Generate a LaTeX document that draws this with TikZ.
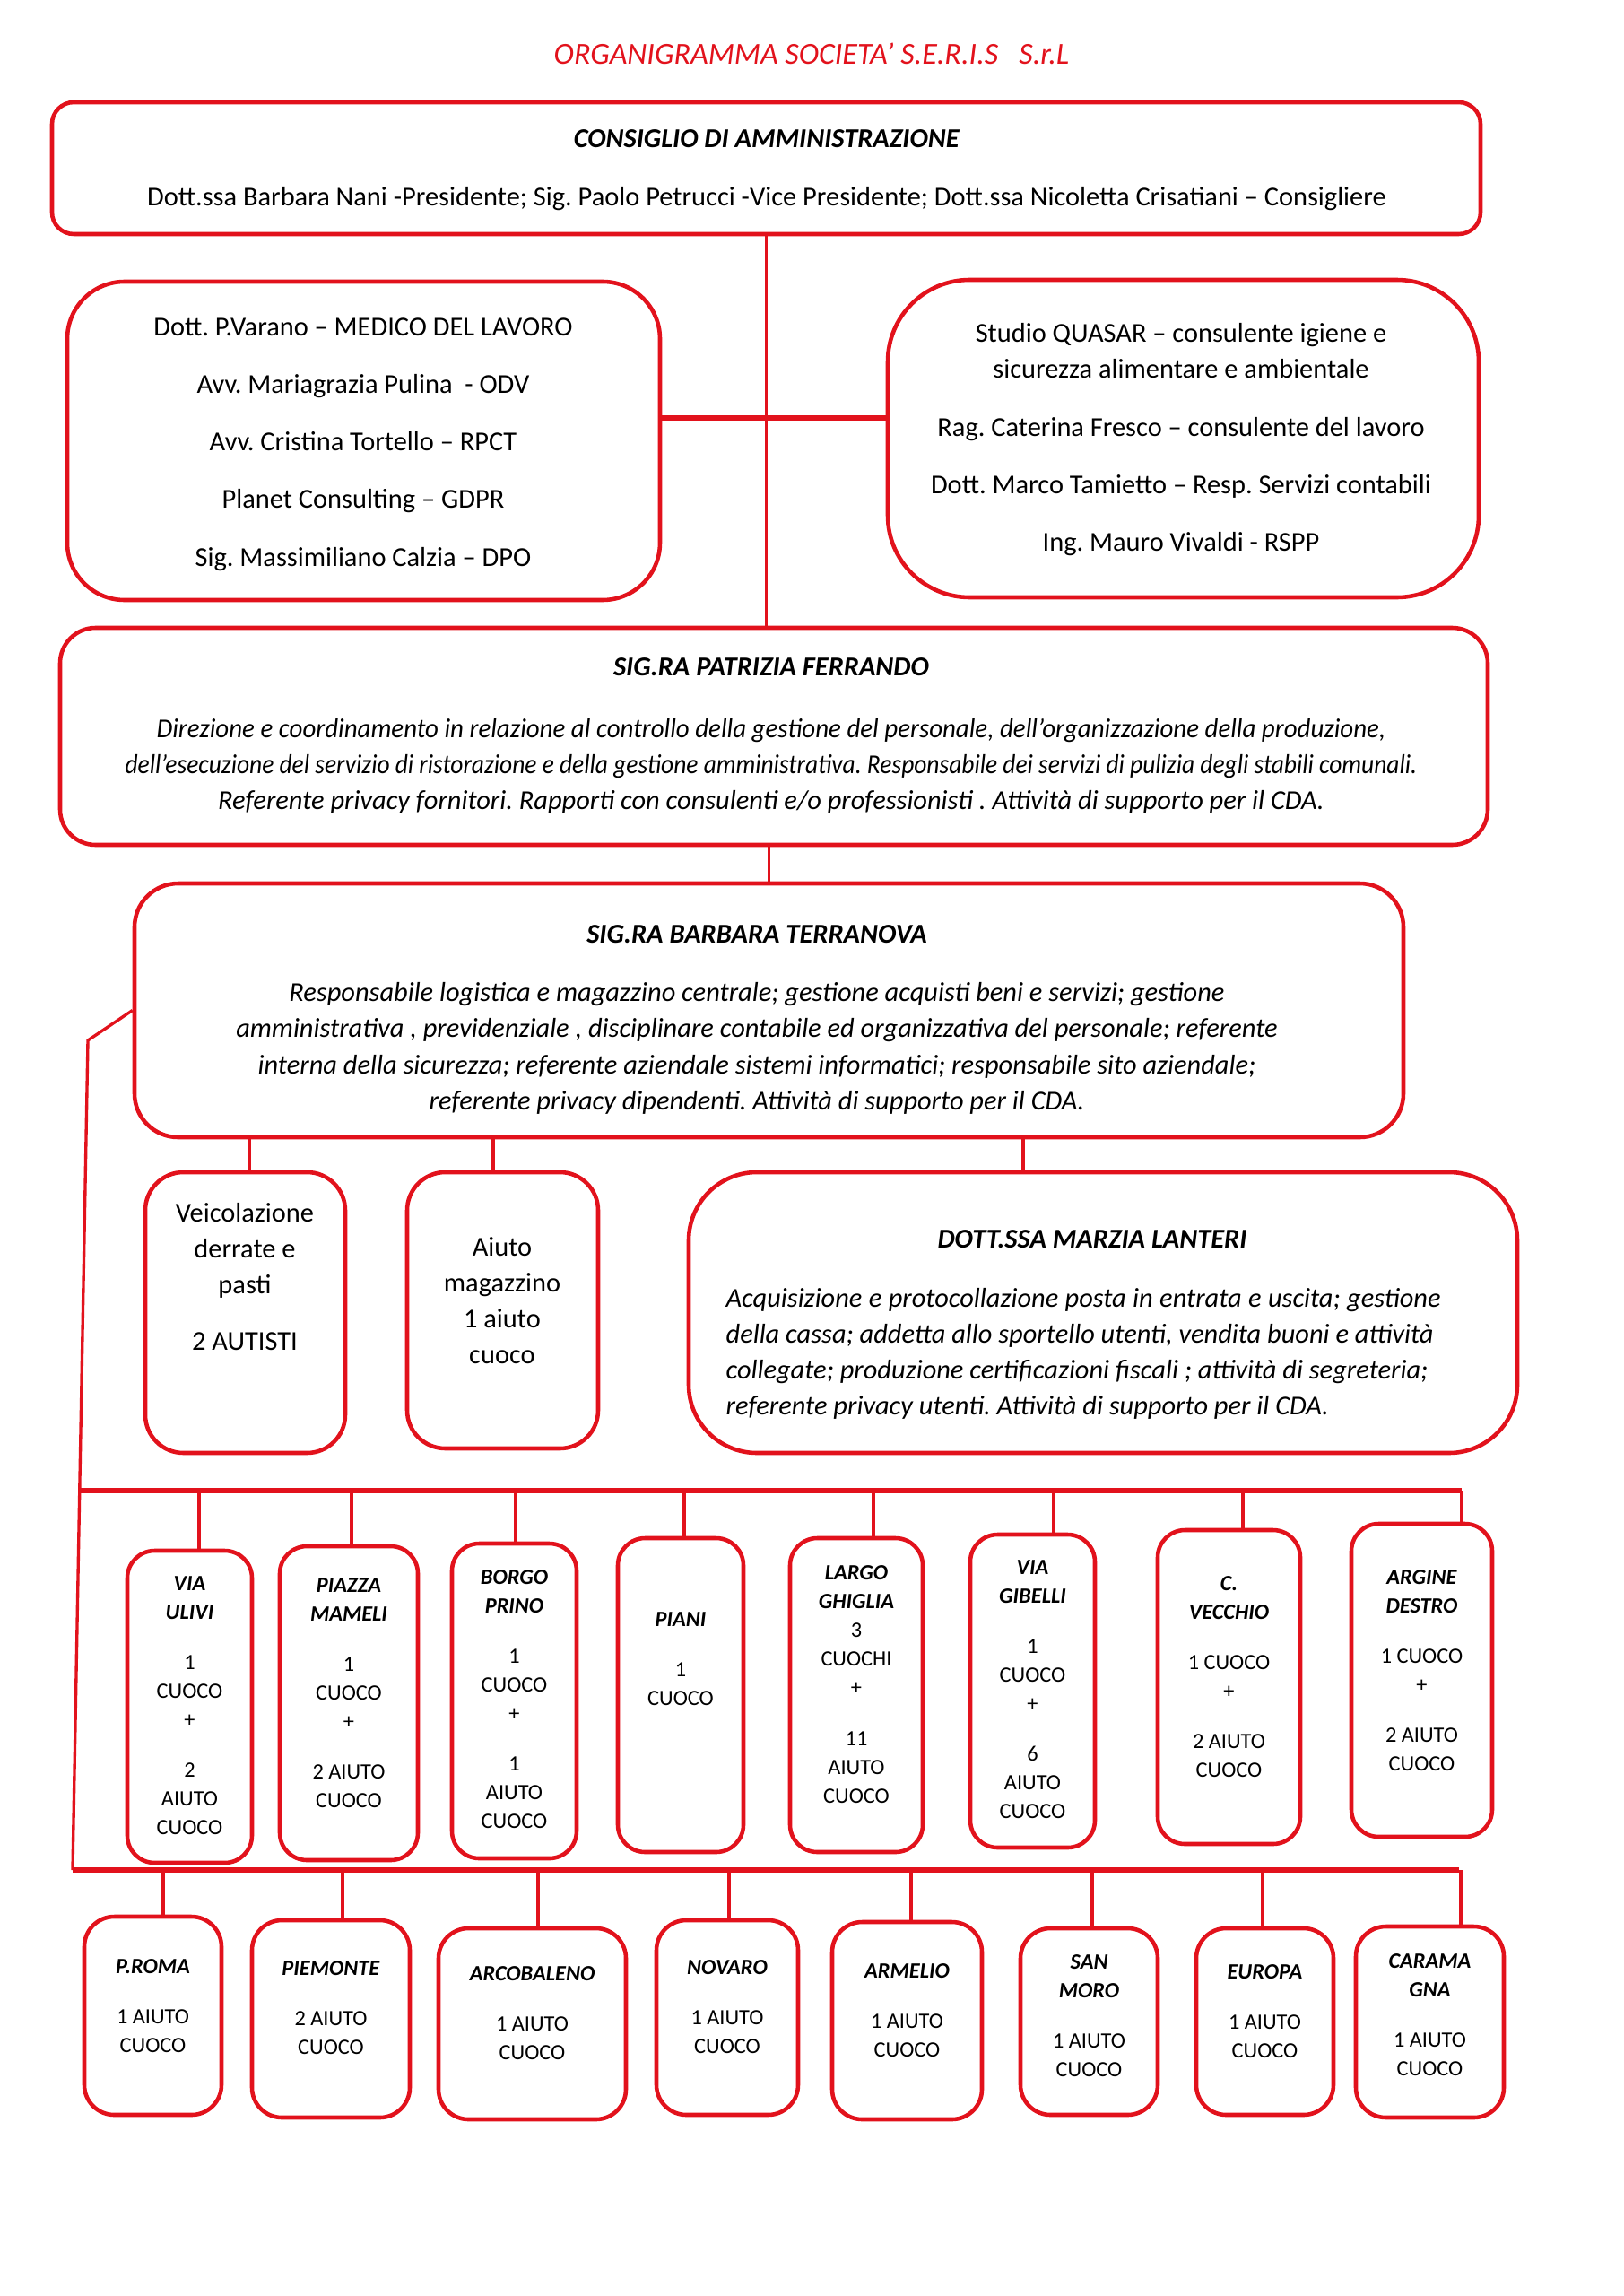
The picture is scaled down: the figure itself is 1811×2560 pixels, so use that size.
\documentclass[tikz,border=0pt]{standalone}
\usepackage{fontspec}
\setmainfont{Carlito}
\definecolor{seris}{RGB}{226,18,28}
\def\PXU{0.3287pt}
\newcommand\BIt[1]{\textbf{\textit{#1}}}
\frenchspacing
\begin{document}
\begin{tikzpicture}[x=0.3287pt,y=-0.3287pt,
  box/.style={draw=seris, line width=1.5pt, fill=white, rounded corners=#1, inner sep=0pt},
  box/.default=10pt,
  wh/.style 2 args={minimum width=#1*\PXU, minimum height=#2*\PXU},
  txt/.style={inner sep=0pt, align=center, anchor=north, text=black},
  link/.style={draw=seris, line width=1.1pt},
  bus/.style={draw=seris, line width=1.7pt},
  big/.style={font=\fontsize{10}{13.15}\selectfont},
  sm/.style={font=\fontsize{8}{10.5}\selectfont},
]
\path[use as bounding box, fill=white] (0,0) rectangle (1811,2560);

\node[font=\fontsize{11.2}{13}\selectfont\itshape, text=seris, inner sep=0pt] (title) at (905,60) {ORGANIGRAMMA SOCIETA’ S.E.R.I.S\ \ \ S.r.L};

% top level boxes
\node[box=8pt, wh={1593}{147}] (cda) at (854.5,187.5) {};
\node[box=21pt, wh={661}{355}] (lbox) at (405.5,491.5) {};
\node[box=30pt, wh={659}{354}] (rbox) at (1319.5,489) {};
\node[box=13pt, wh={1592}{242}] (fer) at (863,821) {};
\node[box=16pt, wh={1415}{283}] (ter) at (857.5,1126.5) {};
\node[box=14pt, wh={223}{313}] (veic) at (273.5,1463.5) {};
\node[box=14pt, wh={213}{308}] (aiu) at (560.5,1461) {};
\node[box=25pt, wh={924}{313}] (mar) at (1230,1463.5) {};

% texts of top level boxes
\node[txt, font=\fontsize{10}{21.4}\selectfont] (cdat) at (855,144)
  {\BIt{CONSIGLIO DI AMMINISTRAZIONE}\\Dott.ssa Barbara Nani -Presidente; Sig. Paolo Petrucci -Vice Presidente; Dott.ssa Nicoletta Crisatiani – Consigliere};
\node[txt, font=\fontsize{10}{21.1}\selectfont] (lboxt) at (405,354)
  {Dott. P.Varano – MEDICO DEL LAVORO\\Avv. Mariagrazia Pulina\ \ - ODV\\Avv. Cristina Tortello – RPCT\\Planet Consulting – GDPR\\Sig. Massimiliano Calzia – DPO};
\node[txt, big] (rboxt) at (1317,360)
  {Studio QUASAR – consulente igiene e\\sicurezza alimentare e ambientale\\[8pt]Rag. Caterina Fresco – consulente del lavoro\\[8pt]Dott. Marco Tamietto – Resp. Servizi contabili\\[8pt]Ing. Mauro Vivaldi - RSPP};
\node[txt, font=\fontsize{10}{13.15}\selectfont] (fert) at (860,733)
  {\BIt{SIG.RA PATRIZIA FERRANDO}\\[9.5pt]
   \scalebox{0.951}[1]{\textit{Direzione e coordinamento in relazione al controllo della gestione del personale, dell’organizzazione della produzione,}}\\
   \scalebox{0.903}[1]{\textit{dell’esecuzione del servizio di ristorazione e della gestione amministrativa. Responsabile dei servizi di pulizia degli stabili comunali.}}\\
   \textit{Referente privacy fornitori. Rapporti con consulenti e/o professionisti . Attività di supporto per il CDA.}};
\node[txt, font=\fontsize{10}{13.3}\selectfont] (tert) at (844,1031)
  {\BIt{SIG.RA BARBARA TERRANOVA}\\[8pt]
   \textit{Responsabile logistica e magazzino centrale; gestione acquisti beni e servizi; gestione}\\
   \textit{amministrativa , previdenziale , disciplinare contabile ed organizzativa del personale; referente}\\
   \textit{interna della sicurezza; referente aziendale sistemi informatici; responsabile sito aziendale;}\\
   \textit{referente privacy dipendenti. Attività di supporto per il CDA.}};
\node[txt, big] (veict) at (273,1341) {Veicolazione\\derrate e\\pasti\\[7.6pt]2 AUTISTI};
\node[txt, big] (aiut) at (560,1379) {Aiuto\\magazzino\\1 aiuto\\cuoco};
\node[inner sep=0pt, font=\fontsize{10}{12}\selectfont\bfseries\itshape] (mart) at (1218,1382) {DOTT.SSA MARZIA LANTERI};
\node[inner sep=0pt, align=left, anchor=north west, big] (marb) at (809,1436)
  {\makebox[262pt][s]{\textit{Acquisizione e protocollazione posta in entrata e uscita; gestione}}\\
   \textit{della cassa; addetta allo sportello utenti, vendita buoni e attività}\\
   \textit{collegate; produzione certificazioni fiscali ; attività di segreteria;}\\
   \textit{referente privacy utenti. Attività di supporto per il CDA.}};

% upper row of sites
\node[box, wh={139}{348}] (u1) at (211.5,1903) {};
\node[box, wh={154}{350}] (u2) at (389,1899) {};
\node[box, wh={139}{351}] (u3) at (573.5,1896.5) {};
\node[box, wh={140}{350}] (u4) at (759,1890) {};
\node[box, wh={148}{350}] (u5) at (955,1890) {};
\node[box, wh={139}{349}] (u6) at (1151.5,1885.5) {};
\node[box, wh={159}{350}] (u7) at (1370.5,1881) {};
\node[box, wh={157}{349}] (u8) at (1585.5,1873.5) {};
\node[txt, sm] (u1t) at (211.5,1757) {\BIt{VIA}\\\BIt{ULIVI}\\[7.9pt]1\\CUOCO\\+\\[7.9pt]2\\AIUTO\\CUOCO};
\node[txt, sm] (u2t) at (389,1759) {\BIt{PIAZZA}\\\BIt{MAMELI}\\[7.9pt]1\\CUOCO\\+\\[7.9pt]2 AIUTO\\CUOCO};
\node[txt, sm] (u3t) at (573.5,1750) {\BIt{BORGO}\\\BIt{PRINO}\\[7.9pt]1\\CUOCO\\+\\[7.9pt]1\\AIUTO\\CUOCO};
\node[txt, sm] (u4t) at (759,1797) {\BIt{PIANI}\\[8pt]1\\CUOCO};
\node[txt, sm] (u5t) at (955,1745) {\BIt{LARGO}\\\BIt{GHIGLIA}\\3\\CUOCHI\\+\\[8.2pt]11\\AIUTO\\CUOCO};
\node[txt, sm] (u6t) at (1151.5,1739) {\BIt{VIA}\\\BIt{GIBELLI}\\[7.9pt]1\\CUOCO\\+\\[7.9pt]6\\AIUTO\\CUOCO};
\node[txt, sm] (u7t) at (1370.5,1757) {\BIt{C.}\\\BIt{VECCHIO}\\[7.9pt]1 CUOCO\\+\\[7.9pt]2 AIUTO\\CUOCO};
\node[txt, sm] (u8t) at (1585.5,1750) {\BIt{ARGINE}\\\BIt{DESTRO}\\[7.9pt]1 CUOCO\\+\\[7.9pt]2 AIUTO\\CUOCO};

% lower row of sites
\node[box=11pt, wh={153}{221}] (l1) at (170.5,2247.5) {};
\node[box=11pt, wh={176}{220}] (l2) at (369,2251) {};
\node[box=11pt, wh={209}{213}] (l3) at (593.5,2256.5) {};
\node[box=11pt, wh={158}{217}] (l4) at (811,2249.5) {};
\node[box=11pt, wh={167}{220}] (l5) at (1011.5,2253) {};
\node[box=11pt, wh={153}{208}] (l6) at (1214.5,2254) {};
\node[box=11pt, wh={153}{208}] (l7) at (1410.5,2254) {};
\node[box=11pt, wh={165}{213}] (l8) at (1594.5,2254.5) {};
\node[txt, sm] (l1t) at (170.5,2184) {\BIt{P.ROMA}\\[7.9pt]1 AIUTO\\CUOCO};
\node[txt, sm] (l2t) at (369,2186) {\BIt{PIEMONTE}\\[7.9pt]2 AIUTO\\CUOCO};
\node[txt, sm] (l3t) at (593.5,2192) {\BIt{ARCOBALENO}\\[7.9pt]1 AIUTO\\CUOCO};
\node[txt, sm] (l4t) at (811,2185) {\BIt{NOVARO}\\[7.9pt]1 AIUTO\\CUOCO};
\node[txt, sm] (l5t) at (1011.5,2189) {\BIt{ARMELIO}\\[7.9pt]1 AIUTO\\CUOCO};
\node[txt, sm] (l6t) at (1214.5,2179) {\BIt{SAN}\\\BIt{MORO}\\[7.9pt]1 AIUTO\\CUOCO};
\node[txt, sm] (l7t) at (1410.5,2190) {\BIt{EUROPA}\\[7.9pt]1 AIUTO\\CUOCO};
\node[txt, sm] (l8t) at (1594.5,2178) {\BIt{CARAMA}\\\BIt{GNA}\\[7.9pt]1 AIUTO\\CUOCO};

% connectors
\coordinate (hub) at (852,466);
\coordinate (lk) at (98,1160);
\coordinate (bus1L) at (89,1662);
\coordinate (bus1R) at (1630,1662);
\coordinate (bus2L) at (81,2085);
\coordinate (bus2R) at (1627,2085);

\draw[link] (cda.south) -- (cda.south |- fer.north);
\draw[link, line width=1.7pt] (lbox.east |- hub) -- (rbox.west |- hub);
\draw[link] (ter.north |- fer.south) -- (ter.north);
\draw[link] ([xshift=4.5*\PXU]veic.north |- ter.south) -- ([xshift=4.5*\PXU]veic.north);
\draw[link] ([xshift=-10.5*\PXU]aiu.north |- ter.south) -- ([xshift=-10.5*\PXU]aiu.north);
\draw[link] ([xshift=-89*\PXU]mar.north |- ter.south) -- ([xshift=-89*\PXU]mar.north);
\draw[link] (ter.west) -- (lk) -- (bus2L);
\draw[bus] (bus1L) -- (bus1R);
\draw[bus] (bus2L) -- (bus2R);

\foreach \n/\s in {u1/10.5,u2/3,u3/1.5,u4/4,u5/19,u6/23.5,u7/15.5,u8/44.5}
  \draw[link] ([xshift=\s*\PXU]\n.north |- bus1L) -- ([xshift=\s*\PXU]\n.north);
\foreach \n/\s in {l1/11.5,l2/13,l3/6.5,l4/2,l5/4.5,l6/3.5,l7/-2.5,l8/34.5}
  \draw[link] ([xshift=\s*\PXU]\n.north |- bus2L) -- ([xshift=\s*\PXU]\n.north);
\end{tikzpicture}
\end{document}
